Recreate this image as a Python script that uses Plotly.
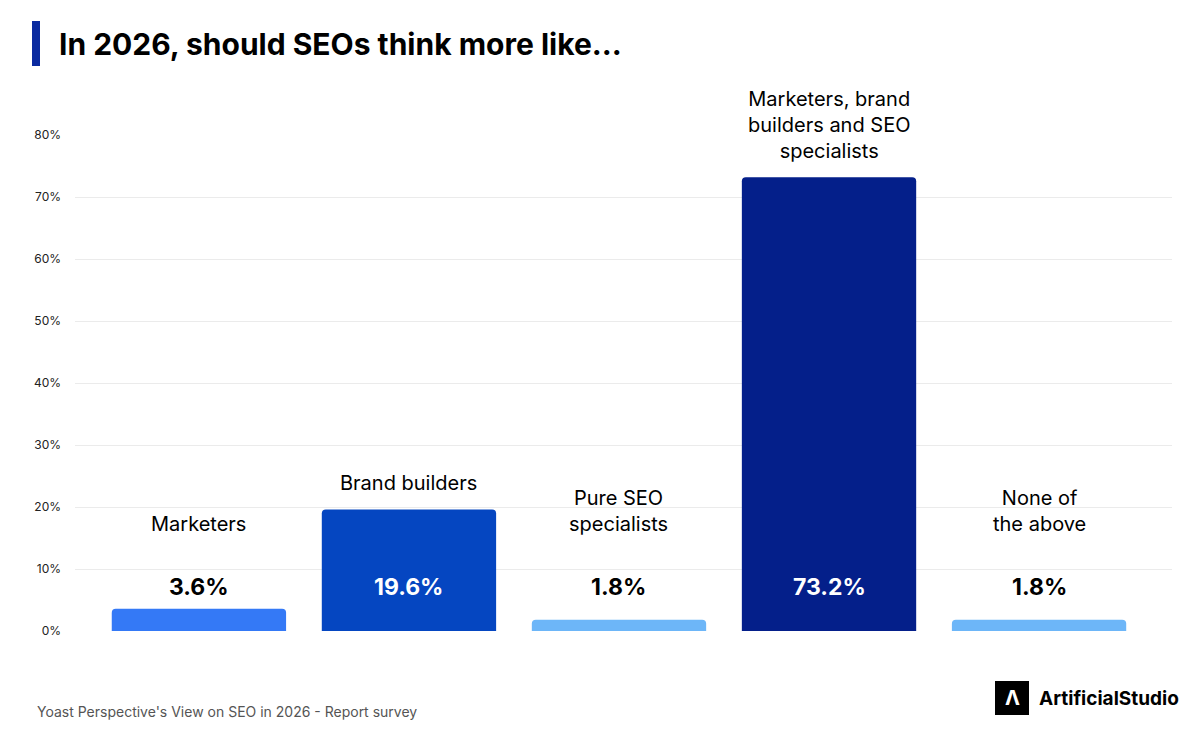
import plotly.graph_objects as go

# Survey results
categories = ["Marketers", "Brand builders", "Pure SEO<br>specialists",
              "Marketers, brand<br>builders and SEO<br>specialists", "None of<br>the above"]
values = [3.6, 19.6, 1.8, 73.2, 1.8]
colors = ["#3479F6", "#0546C1", "#6DB6F8", "#041F8A", "#6DB6F8"]
tick_vals = [0, 10, 20, 30, 40, 50, 60, 70, 80]
tick_text = [f"{v}%" for v in tick_vals]

x = list(range(len(categories)))

# page has an 8px body margin, so the figure is drawn 8px smaller
W, H = 1182, 723
L, R, T, B = 67, 18, 127, 100

fig = go.Figure()
fig.add_trace(go.Bar(
    x=x, y=values,
    marker=dict(color=colors, cornerradius=4, line=dict(width=0)),
    hoverinfo="skip",
))

annotations = []
for i, (cat, v) in enumerate(zip(categories, values)):
    # value label, all sit at the same height
    annotations.append(dict(
        x=i, y=7.1, xref="x", yref="y", text=f"<b>{v}%</b>", showarrow=False,
        font=dict(size=23, color="white" if v > 10 else "black", family="Inter"),
    ))
    # category label above the bar
    annotations.append(dict(
        x=i, y=v if v > 10 else 15, xref="x", yref="y", text=cat, showarrow=False,
        yanchor="bottom", yshift=12 if v > 10 else 0,
        font=dict(size=20, color="black", family="Inter"),
    ))

pw, ph = W - L - R, H - T - B
def px(xp): return (xp - 8 - L) / pw
def py(yp): return (H - B - (yp - 8)) / ph

annotations.append(dict(
    x=px(35), y=py(711), xref="paper", yref="paper", xanchor="left", yanchor="middle",
    text="Yoast Perspective's View on SEO in 2026 - Report survey",
    showarrow=False, font=dict(size=14, color="#555", family="Inter"),
))
annotations.append(dict(
    x=px(57), y=py(44), xref="paper", yref="paper", xanchor="left", yanchor="middle",
    text="<b>In 2026, should SEOs think more like...</b>", showarrow=False,
    font=dict(size=30, color="black", family="Inter"),
))
annotations.append(dict(
    x=px(1037), y=py(698), xref="paper", yref="paper", xanchor="left", yanchor="middle",
    text="<b>ArtificialStudio</b>", showarrow=False,
    font=dict(size=19, color="black", family="Inter"),
))
annotations.append(dict(
    x=px(1012), y=py(698), xref="paper", yref="paper", xanchor="center", yanchor="middle",
    text="<b>Λ</b>", showarrow=False, font=dict(size=20, color="white", family="Inter"),
))

fig.update_layout(
    width=W, height=H,
    margin=dict(l=L, r=R, t=T, b=B),
    plot_bgcolor="white", paper_bgcolor="white",
    showlegend=False, bargap=0.17,
    font=dict(family="Inter", color="black"),
    xaxis=dict(range=[-0.59, 4.633], showticklabels=False, showgrid=False, zeroline=False),
    yaxis=dict(range=[0, 80], tickvals=tick_vals, ticktext=tick_text,
               gridcolor="#ebebeb", zeroline=False, tickfont=dict(size=12, color="#222"),
               ticklabelstandoff=13),
    annotations=annotations,
)

fig.add_shape(type="rect", xref="paper", yref="paper",
              x0=px(32), x1=px(40), y0=py(66), y1=py(21),
              fillcolor="#0A2AA0", line=dict(width=0))
fig.add_shape(type="rect", xref="paper", yref="paper",
              x0=px(995), x1=px(1029), y0=py(715), y1=py(681),
              fillcolor="black", line=dict(width=0))

fig.write_html("out.html")
